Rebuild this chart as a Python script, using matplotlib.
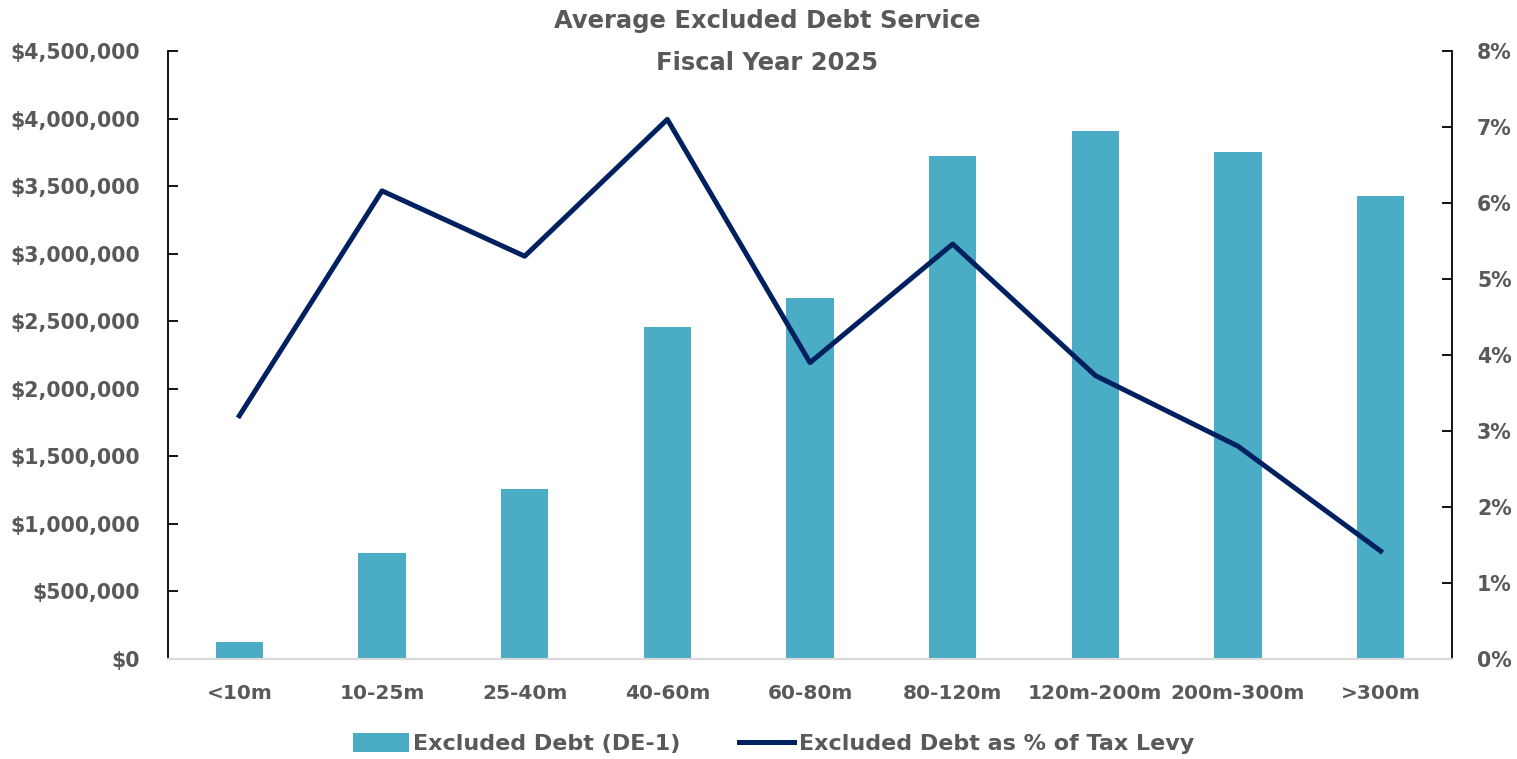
import matplotlib
matplotlib.use("Agg")
import matplotlib.pyplot as plt
from matplotlib.ticker import FuncFormatter, MultipleLocator

categories = ["<10m", "10-25m", "25-40m", "40-60m", "60-80m",
              "80-120m", "120m-200m", "200m-300m", ">300m"]
excluded_debt = [128000, 786000, 1256000, 2455000, 2675000,
                 3724000, 3906000, 3754000, 3424000]
pct_of_levy = [3.20, 6.16, 5.30, 7.10, 3.90, 5.46, 3.73, 2.80, 1.42]

bar_color = "#4BACC6"
line_color = "#002060"
text_color = "#595959"

plt.rcParams["font.family"] = "DejaVu Sans"
plt.rcParams["font.weight"] = "bold"

fig = plt.figure(figsize=(15.17, 7.59), dpi=100)
ax = fig.add_axes([168 / 1517, 100 / 759, 1284 / 1517, 608 / 759])
ax2 = ax.twinx()

x = list(range(len(categories)))
bars = ax.bar(x, excluded_debt, width=0.33, color=bar_color,
              label="Excluded Debt (DE-1)", zorder=2)
line, = ax2.plot(x, pct_of_levy, color=line_color, lw=3.6,
                 label="Excluded Debt as % of Tax Levy", zorder=3)

ax.set_xlim(-0.5, len(categories) - 0.5)
ax.set_ylim(0, 4500000)
ax2.set_ylim(0, 8)
ax.yaxis.set_major_locator(MultipleLocator(500000))
ax2.yaxis.set_major_locator(MultipleLocator(1))
ax.yaxis.set_major_formatter(FuncFormatter(lambda v, p: "${:,.0f}".format(v)))
ax2.yaxis.set_major_formatter(FuncFormatter(lambda v, p: "{:.0f}%".format(v)))

ax.set_xticks(x)
ax.set_xticklabels(categories)

for a in (ax, ax2):
    a.spines["top"].set_visible(False)
    a.spines["bottom"].set_color("#D9D9D9")
    a.spines["bottom"].set_linewidth(1.5)
    a.spines["left"].set_color("black")
    a.spines["right"].set_color("black")
    a.spines["left"].set_linewidth(1.3)
    a.spines["right"].set_linewidth(1.3)
ax.spines["right"].set_visible(False)
ax2.spines["left"].set_visible(False)

ax.tick_params(axis="y", direction="in", length=7, width=1.3,
               labelsize=14.8, labelcolor=text_color, pad=20)
ax2.tick_params(axis="y", direction="in", length=7, width=1.3,
                labelsize=14.8, labelcolor=text_color, pad=18)
ax.tick_params(axis="x", length=0, labelsize=14.5,
               labelcolor=text_color, pad=18)

fig.text(0.5056, 0.972, "Average Excluded Debt Service", ha="center",
         va="center", fontsize=17.5, fontweight="bold", color=text_color)
fig.text(0.5056, 0.917, "Fiscal Year 2025", ha="center",
         va="center", fontsize=17.5, fontweight="bold", color=text_color)

leg = fig.legend(handles=[bars, line], loc="center", ncol=2,
                 bbox_to_anchor=(0.51, 0.02), frameon=False,
                 fontsize=16, handlelength=2.5, handleheight=0.9,
                 handletextpad=0.2, columnspacing=2.6)
for t in leg.get_texts():
    t.set_color(text_color)

fig.savefig("out.png", dpi=100)
